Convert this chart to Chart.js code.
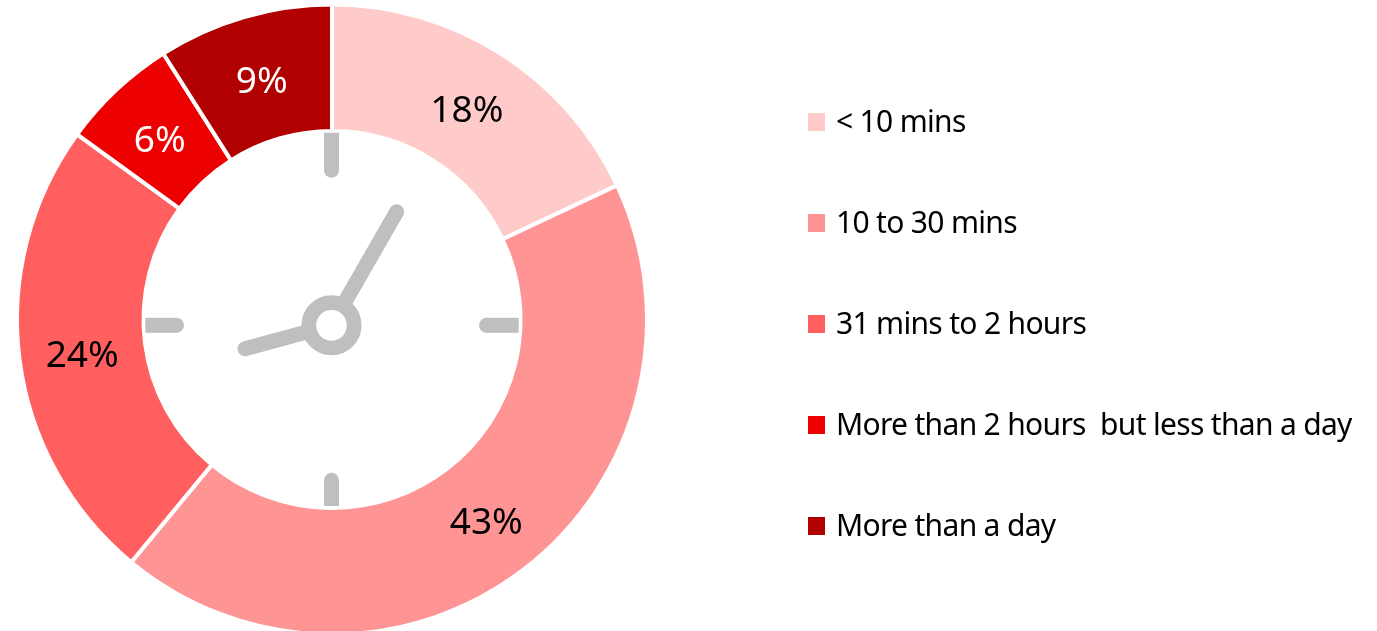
<!DOCTYPE html>
<html>
<head>
<meta charset="utf-8">
<style>
  html, body { margin: 0; padding: 0; background: #fff; overflow: hidden; }
  #wrap { position: relative; width: 1377px; height: 631px; overflow: hidden; }
  canvas { position: absolute; left: 0; top: 0; }
</style>
<script src="https://cdn.jsdelivr.net/npm/chart.js@4"></script>
</head>
<body>
<div id="wrap"><canvas id="chart" width="1377" height="631"></canvas></div>
<script>
const categories = ['< 10 mins', '10 to 30 mins', '31 mins to 2 hours', 'More than 2 hours  but less than a day', 'More than a day'];
const shares = [18, 43, 24, 6, 9];
const sliceColors = ['#ffcaca', '#ff9494', '#ff5f5f', '#ec0000', '#b00000'];
const labelColors = ['#000', '#000', '#000', '#fff', '#fff'];

const FONT = '"Noto Sans", sans-serif';
const GREY = '#bfbfbf';

// 圆环中间的时钟
const clockFace = {
  id: 'clockFace',
  afterDatasetsDraw(chart) {
    const c = chart.ctx;
    const x0 = 331.5, y0 = 325.3;
    const hw = 7.5;
    c.save();
    c.fillStyle = GREY;
    c.strokeStyle = GREY;

    // 四个刻度：外端平，内端圆
    c.fillRect(x0 - hw, 132.7, hw * 2, 37.5);
    c.fillRect(x0 - hw, 480.2, hw * 2, 25.8);
    c.fillRect(145.3, y0 - hw, 31.2, hw * 2);
    c.fillRect(486.5, y0 - hw, 32.2, hw * 2);
    [[x0, 170.2], [x0, 480.2], [176.5, y0], [486.5, y0]].forEach(p => {
      c.beginPath(); c.arc(p[0], p[1], hw, 0, Math.PI * 2); c.fill();
    });

    // 时针、分针
    c.lineCap = 'round';
    c.lineWidth = hw * 2;
    c.beginPath(); c.moveTo(x0, y0); c.lineTo(396.7, 211.7); c.stroke();
    c.beginPath(); c.moveTo(x0, y0); c.lineTo(245, 348.7); c.stroke();

    // 中心圆环
    c.fillStyle = '#fff';
    c.lineWidth = 14.7;
    c.beginPath(); c.arc(x0, y0, 22.7, 0, Math.PI * 2); c.fill(); c.stroke();
    c.restore();
  }
};

// 百分比标签
const sliceText = {
  id: 'sliceText',
  afterDraw(chart) {
    const c = chart.ctx;
    c.save();
    c.font = '37px ' + FONT;
    c.textAlign = 'center';
    c.textBaseline = 'middle';
    chart.getDatasetMeta(0).data.forEach((arc, i) => {
      const p = arc.getCenterPoint();
      c.fillStyle = labelColors[i];
      c.fillText(shares[i] + '%', p.x, p.y + 5);
    });
    c.restore();
  }
};

new Chart(document.getElementById('chart'), {
  type: 'doughnut',
  data: {
    labels: categories,
    datasets: [{
      data: shares,
      backgroundColor: sliceColors,
      borderColor: '#fff',
      borderWidth: 4
    }]
  },
  options: {
    responsive: false,
    animation: false,
    cutout: '59.84%',
    radius: 315,
    layout: { padding: { left: 0, top: 8, right: 713, bottom: 0 } },
    plugins: {
      legend: { display: false },
      tooltip: { enabled: false }
    }
  },
  plugins: [clockFace, sliceText]
});

// 图例
const legendY = [121, 222, 323, 424, 525];
const wrap = document.getElementById('wrap');
categories.forEach((name, i) => {
  const box = document.createElement('div');
  box.style.cssText = `position:absolute;left:808px;top:${legendY[i] - 8}px;width:17px;height:18px;background:${sliceColors[i]}`;
  const txt = document.createElement('div');
  txt.style.cssText = `position:absolute;left:836px;top:${legendY[i] - 22}px;font:30px/44px ${FONT};letter-spacing:-0.68px;color:#000;white-space:pre`;
  txt.textContent = name;
  wrap.appendChild(box);
  wrap.appendChild(txt);
});
</script>
</body>
</html>
